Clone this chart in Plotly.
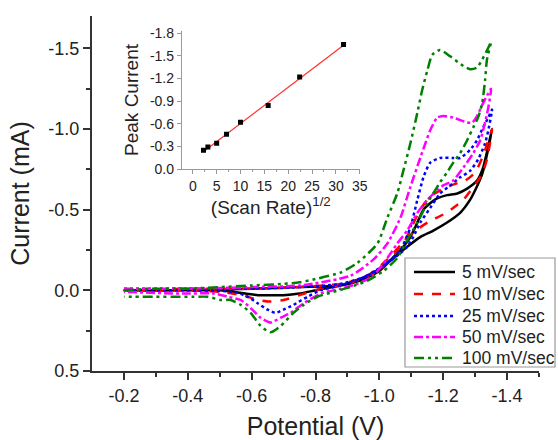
import plotly.graph_objects as go

# ---- main CV data (Potential V, Current mA) : loop = forward branch then return branch
x_5 = [-0.2, -0.4, -0.6, -0.75, -0.878, -0.94, -1.0, -1.056, -1.075, -1.097, -1.119, -1.138, -1.159, -1.181, -1.212, -1.244, -1.275, -1.306, -1.325, -1.353,
       -1.338, -1.322, -1.3, -1.284, -1.253, -1.212, -1.169, -1.128, -1.087, -1.044, -1.0, -0.94, -0.878, -0.8, -0.75, -0.7, -0.66, -0.62, -0.58, -0.5, -0.4, -0.2]
y_5 = [0.0, 0.0, -0.01, -0.02, -0.03, -0.06, -0.12, -0.23, -0.27, -0.33, -0.42, -0.50, -0.54, -0.57, -0.59, -0.60, -0.63, -0.68, -0.76, -1.0,
       -0.85, -0.72, -0.62, -0.56, -0.48, -0.42, -0.37, -0.33, -0.27, -0.20, -0.13, -0.07, -0.03, 0.0, 0.02, 0.03, 0.03, 0.03, 0.02, 0.0, 0.0, 0.0]

x_10 = [-0.2, -0.4, -0.6, -0.75, -0.878, -0.94, -1.003, -1.05, -1.081, -1.103, -1.128, -1.159, -1.2, -1.238, -1.269, -1.3, -1.322, -1.338, -1.353,
        -1.338, -1.322, -1.294, -1.263, -1.231, -1.2, -1.159, -1.113, -1.075, -1.03, -0.97, -0.9, -0.8, -0.75, -0.7, -0.66, -0.62, -0.57, -0.5, -0.4, -0.2]
y_10 = [0.0, -0.01, -0.01, -0.02, -0.04, -0.07, -0.13, -0.23, -0.31, -0.40, -0.50, -0.58, -0.63, -0.66, -0.68, -0.73, -0.82, -0.91, -1.0,
        -0.82, -0.72, -0.64, -0.56, -0.51, -0.47, -0.43, -0.37, -0.30, -0.20, -0.10, -0.04, 0.0, 0.03, 0.06, 0.07, 0.06, 0.03, 0.01, 0.0, 0.0]

x_25 = [-0.2, -0.4, -0.6, -0.75, -0.878, -0.963, -1.025, -1.066, -1.097, -1.119, -1.138, -1.159, -1.19, -1.231, -1.253, -1.284, -1.306, -1.325, -1.341, -1.353,
        -1.341, -1.331, -1.309, -1.284, -1.253, -1.222, -1.19, -1.159, -1.128, -1.106, -1.087, -1.066, -1.003, -0.94, -0.878, -0.816, -0.775, -0.731, -0.7, -0.675, -0.65, -0.619, -0.588, -0.544, -0.378, -0.2]
y_25 = [-0.01, -0.01, -0.01, -0.02, -0.04, -0.09, -0.17, -0.25, -0.39, -0.56, -0.70, -0.79, -0.82, -0.82, -0.82, -0.87, -0.93, -1.01, -1.07, -1.12,
        -0.99, -0.91, -0.81, -0.74, -0.70, -0.65, -0.60, -0.51, -0.42, -0.33, -0.27, -0.23, -0.14, -0.07, -0.03, 0.0, 0.04, 0.09, 0.12, 0.14, 0.12, 0.08, 0.04, 0.01, 0.0, 0.0]

x_50 = [-0.2, -0.4, -0.6, -0.75, -0.909, -0.981, -1.025, -1.066, -1.097, -1.128, -1.144, -1.159, -1.181, -1.2, -1.231, -1.275, -1.291, -1.306, -1.325, -1.341, -1.35,
        -1.341, -1.331, -1.316, -1.294, -1.263, -1.231, -1.2, -1.181, -1.15, -1.119, -1.087, -1.056, -1.025, -0.981, -0.931, -0.878, -0.816, -0.763, -0.722, -0.691, -0.659, -0.628, -0.597, -0.566, -0.525, -0.481, -0.378, -0.2]
y_50 = [-0.01, -0.01, -0.02, -0.03, -0.09, -0.19, -0.29, -0.45, -0.64, -0.82, -0.91, -0.99, -1.07, -1.08, -1.07, -1.04, -1.04, -1.08, -1.16, -1.22, -1.25,
        -1.13, -1.04, -0.93, -0.85, -0.76, -0.68, -0.65, -0.62, -0.56, -0.48, -0.37, -0.29, -0.20, -0.09, -0.04, -0.01, 0.02, 0.08, 0.14, 0.17, 0.20, 0.17, 0.11, 0.06, 0.04, 0.02, 0.02, 0.01]

x_100 = [-0.2, -0.3, -0.4, -0.5, -0.6, -0.7, -0.75, -0.8, -0.878, -0.931, -0.994, -1.025, -1.056, -1.075, -1.097, -1.119, -1.134, -1.15, -1.166, -1.19, -1.222, -1.263, -1.284, -1.306, -1.322, -1.338, -1.35,
         -1.337, -1.331, -1.322, -1.309, -1.294, -1.275, -1.253, -1.231, -1.212, -1.19, -1.181, -1.15, -1.119, -1.087, -1.056, -1.013, -0.963, -0.909, -0.856, -0.806, -0.763, -0.731, -0.691, -0.659, -0.628, -0.597, -0.566, -0.534, -0.503, -0.463, -0.419, -0.378, -0.3, -0.2]
y_100 = [0.0, -0.01, -0.01, -0.02, -0.03, -0.04, -0.05, -0.07, -0.11, -0.17, -0.29, -0.45, -0.60, -0.74, -0.91, -1.10, -1.24, -1.36, -1.46, -1.49, -1.45, -1.39, -1.37, -1.38, -1.43, -1.49, -1.54,
         -1.43, -1.30, -1.16, -1.07, -1.01, -0.93, -0.85, -0.79, -0.73, -0.67, -0.64, -0.54, -0.42, -0.31, -0.20, -0.12, -0.06, -0.02, 0.01, 0.04, 0.09, 0.14, 0.22, 0.26, 0.22, 0.14, 0.09, 0.06, 0.06, 0.04, 0.04, 0.04, 0.04, 0.04]

series_names = ["5 mV/sec", "10 mV/sec", "25 mV/sec", "50 mV/sec", "100 mV/sec"]

# ---- inset data
sqrt_rate = [2.24, 3.16, 5.0, 7.07, 10.0, 15.8, 22.4, 31.6]
peak_current = [-0.25, -0.29, -0.34, -0.46, -0.62, -0.84, -1.22, -1.65]
fit_x = [2.2, 31.6]
fit_y = [-0.23, -1.64]

# ---- tick labels
main_x_ticks = [-0.2, -0.4, -0.6, -0.8, -1.0, -1.2, -1.4]
main_x_text = ["-0.2", "-0.4", "-0.6", "-0.8", "-1.0", "-1.2", "-1.4"]
main_y_ticks = [-1.5, -1.0, -0.5, 0.0, 0.5]
main_y_text = ["-1.5", "-1.0", "-0.5", "0.0", "0.5"]
in_x_ticks = [0, 5, 10, 15, 20, 25, 30, 35]
in_x_text = ["0", "5", "10", "15", "20", "25", "30", "35"]
in_y_ticks = [-1.8, -1.5, -1.2, -0.9, -0.6, -0.3, 0.0]
in_y_text = ["-1.8", "-1.5", "-1.2", "-0.9", "-0.6", "-0.3", "0.0"]

FONT = "Liberation Sans, Arial, sans-serif"

styles = [
    ("black", "solid"),
    ("#ff0000", "dash"),
    ("#0000ff", "dot"),
    ("#ff00ff", "dashdot"),
    ("#008000", "10px,4px,3px,4px,3px,4px"),
]
xs = [x_5, x_10, x_25, x_50, x_100]
ys = [y_5, y_10, y_25, y_50, y_100]

fig = go.Figure()
for name, x, y, (c, d) in zip(series_names, xs, ys, styles):
    fig.add_trace(go.Scatter(x=x, y=y, mode="lines", name=name, showlegend=False,
                             line=dict(color=c, dash=d, width=2.5, shape="spline", smoothing=0.6),
                             xaxis="x", yaxis="y"))

fig.add_trace(go.Scatter(x=fit_x, y=fit_y, mode="lines", line=dict(color="#ff3030", width=1.2),
                         showlegend=False, xaxis="x2", yaxis="y2"))
fig.add_trace(go.Scatter(x=sqrt_rate, y=peak_current, mode="markers",
                         marker=dict(symbol="square", size=5, color="black"),
                         showlegend=False, xaxis="x2", yaxis="y2"))

# ---- manual legend (box, line samples, labels) in paper coordinates
LEG_X0, LEG_X1, LEG_Y0, LEG_Y1 = 0.7002, 1.0358, 0.0113, 0.3183
SAMPLE_X0, SAMPLE_X1, TEXT_X = 0.7204, 0.8121, 0.8233
ROW_Y = [0.2789, 0.2169, 0.1549, 0.0958, 0.0366]

shapes = [dict(type="rect", xref="paper", yref="paper", x0=LEG_X0, x1=LEG_X1, y0=LEG_Y0, y1=LEG_Y1,
               line=dict(color="#999", width=1.2), fillcolor="white", layer="above")]
annotations = []
for name, (c, d), ry in zip(series_names, styles, ROW_Y):
    shapes.append(dict(type="line", xref="paper", yref="paper", x0=SAMPLE_X0, x1=SAMPLE_X1, y0=ry, y1=ry,
                       line=dict(color=c, dash=d, width=2.5), layer="above"))
    annotations.append(dict(xref="paper", yref="paper", x=TEXT_X, y=ry, text=name, showarrow=False,
                            xanchor="left", yanchor="middle", font=dict(family=FONT, size=17.5, color="#222")))

ax_common = dict(showline=True, linecolor="#333", linewidth=2, ticks="outside", ticklen=7,
                 tickwidth=1.5, tickcolor="#333", showgrid=False, zeroline=False, mirror=False,
                 automargin=False, tickfont=dict(family=FONT, size=18, color="#222"))

fig.update_layout(
    width=558, height=440,
    margin=dict(l=92, r=19, t=16, b=69),
    paper_bgcolor="white", plot_bgcolor="white",
    font=dict(family=FONT, color="#222"),
    xaxis=dict(domain=[0, 1], range=[-0.1, -1.5], tickmode="array", tickvals=main_x_ticks, ticktext=main_x_text,
               minor=dict(tickvals=[-0.3, -0.5, -0.7, -0.9, -1.1, -1.3, -1.5], ticklen=4, tickwidth=1.5, tickcolor="#333", ticks="outside"),
               title=dict(text="Potential (V)", font=dict(family=FONT, size=25, color="#222"), standoff=15),
               anchor="y", **ax_common),
    yaxis=dict(domain=[0, 1], range=[0.5, -1.7], tickmode="array", tickvals=main_y_ticks, ticktext=main_y_text,
               minor=dict(tickvals=[-1.75, -1.25, -0.75, -0.25, 0.25], ticklen=4, tickwidth=1.5, tickcolor="#333", ticks="outside"),
               title=dict(text="Current (mA)", font=dict(family=FONT, size=25, color="#222"), standoff=12),
               anchor="x", **ax_common),
    xaxis2=dict(domain=[0.201, 0.599], range=[-2.3, 35], anchor="y2", tickmode="array", tickvals=in_x_ticks, ticktext=in_x_text,
                showline=True, linecolor="#999", linewidth=1, ticks="outside", ticklen=4, tickcolor="#999",
                minor=dict(tickvals=[2.5, 7.5, 12.5, 17.5, 22.5, 27.5, 32.5], ticklen=2, tickcolor="#999", ticks="outside"),
                showgrid=False, zeroline=False, automargin=False, tickfont=dict(family=FONT, size=14, color="#222"),
                title=dict(text="(Scan Rate)<sup>1/2</sup>", font=dict(family=FONT, size=19, color="#222"), standoff=4)),
    yaxis2=dict(domain=[0.569, 0.958], range=[0.0, -1.83], anchor="x2", tickmode="array", tickvals=in_y_ticks, ticktext=in_y_text,
                showline=True, linecolor="#999", linewidth=1, ticks="outside", ticklen=4, tickcolor="#999",
                showgrid=False, zeroline=False, automargin=False, tickfont=dict(family=FONT, size=14, color="#222"),
                title=dict(text="Peak Current", font=dict(family=FONT, size=19, color="#222"), standoff=6)),
    shapes=shapes,
    annotations=annotations,
    showlegend=False,
)

fig.write_html("out.html")
